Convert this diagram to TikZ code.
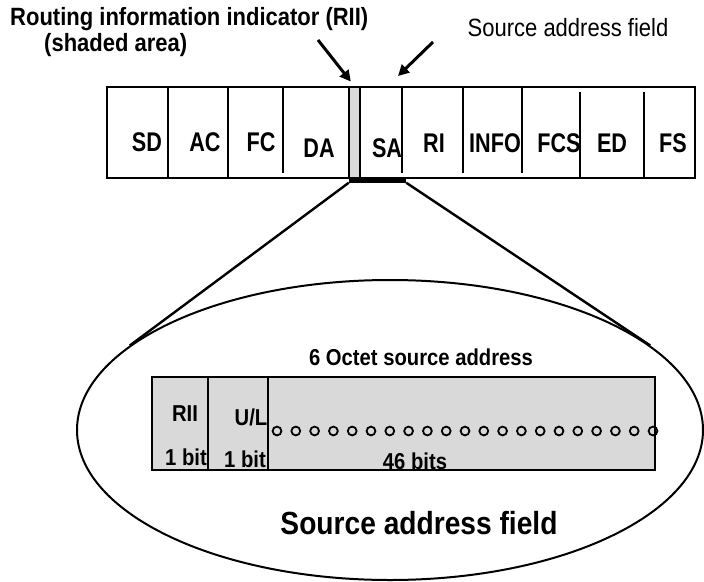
\documentclass[tikz,border=0pt]{standalone}
\usepackage{fontspec}
\setmainfont{Liberation Sans}
% narrow Helvetica-like faces used for the labels
\newfontfamily\narrowsans[FakeStretch=0.88]{Liberation Sans}
\newfontfamily\tallsans[FakeStretch=0.8]{Liberation Sans}
\usetikzlibrary{arrows.meta,shapes.geometric}
\definecolor{shade}{RGB}{217,217,217}
\begin{document}
\begin{tikzpicture}[x=1pt,y=-1pt,
  fld/.style={font=\tallsans\fontsize{27}{29}\selectfont\bfseries, inner sep=0pt},
  sub/.style={font=\narrowsans\fontsize{23}{25}\selectfont\bfseries, inner sep=0pt},
  ttl/.style={font=\narrowsans\fontsize{25}{27}\selectfont\bfseries, inner sep=0pt},
  note/.style={font=\narrowsans\fontsize{25}{27}\selectfont, inner sep=0pt},
  divider/.style={line width=2pt},
  pointer/.style={line width=3pt, -{Triangle[length=11pt,width=11pt]}},
  zoomline/.style={line width=2.4pt},
  bit/.style={line width=1.8pt}]
\useasboundingbox (0,0) rectangle (704,581);

% ---- Token Ring frame ----
\node[draw, line width=2pt, minimum width=588pt, minimum height=91pt, inner sep=0pt] (frame) at (401,132.5) {};
\draw[divider] (168,87) -- (168,178);
\draw[divider] (228,87) -- (228,178);
\draw[divider] (283,87) -- (283,173);
\draw[divider] (402,87) -- (402,173);
\draw[divider] (463,87) -- (463,173);
\draw[divider] (522,87) -- (522,173);
\draw[divider] (580,92) -- (580,178);
\draw[divider] (644,92) -- (644,178);

% shaded RII bit at the start of the source address
\node[draw, line width=1.5pt, fill=shade, minimum width=11pt, minimum height=91pt, inner sep=0pt] (rii) at (354.5,132.5) {};
% bar under the source address field
\node[fill=black, minimum width=57pt, minimum height=4pt, inner sep=0pt] (sabar) at (377.5,180.5) {};

\node[fld] (sd)   at (147,142) {SD};
\node[fld] (ac)   at (205,142) {AC};
\node[fld] (fc)   at (261,142) {FC};
\node[fld] (da)   at (319,148) {DA};
\node[fld] (sa)   at (387,148) {SA};
\node[fld] (ri)   at (434,143) {RI};
\node[fld] (info) at (495,143) {INFO};
\node[fld] (fcs)  at (559,143) {FCS};
\node[fld] (ed)   at (612,143) {ED};
\node[fld] (fs)   at (673,143) {FS};

% ---- labels and pointers ----
\node[ttl, anchor=west] (riilbl) at (10,19) {Routing information indicator (RII)};
\node[ttl, anchor=west] (riilbl2) at (44,45) {(shaded area)};
\node[note] (salbl) at (568,28) {Source address field};
\coordinate (riistart) at (318,40);
\coordinate (sastart) at (433,42);
\draw[pointer, shorten >=6pt] (riistart) -- (rii.north);
\draw[pointer] (sastart) -- (398,76);

% ---- expanded view of the source address ----
\node[draw, ellipse, line width=2pt, minimum width=626pt, minimum height=300pt, inner sep=0pt] (bubble) at (390,430) {};
\draw[zoomline] (sabar.south west) -- (bubble.162);
\draw[zoomline] (sabar.south east) -- (bubble.18);

\node[fill=shade, minimum width=503pt, minimum height=93pt, inner sep=0pt] (addr) at (403.5,423.5) {};
\foreach \i in {0,...,20}
  \draw[bit] (277+\i*18.8,431) circle (4.4pt);
\draw[line width=2pt] (addr.north west) rectangle (addr.south east);
\draw[divider] (208,377) -- (208,470);
\draw[divider] (268,377) -- (268,470);

\node[sub] (octet) at (421,357) {6 Octet source address};
\node[sub] (riibit) at (185,414) {RII};
\node[sub] (ulbit) at (251,417) {U/L};
\node[sub] (riisz) at (186,457) {1 bit};
\node[sub] (ulsz) at (245,459) {1 bit};
\node[sub] (restsz) at (415,461) {46 bits};
\node[font=\narrowsans\fontsize{32}{34}\selectfont\bfseries, inner sep=0pt] (caption) at (419,523) {Source address field};
\end{tikzpicture}
\end{document}
